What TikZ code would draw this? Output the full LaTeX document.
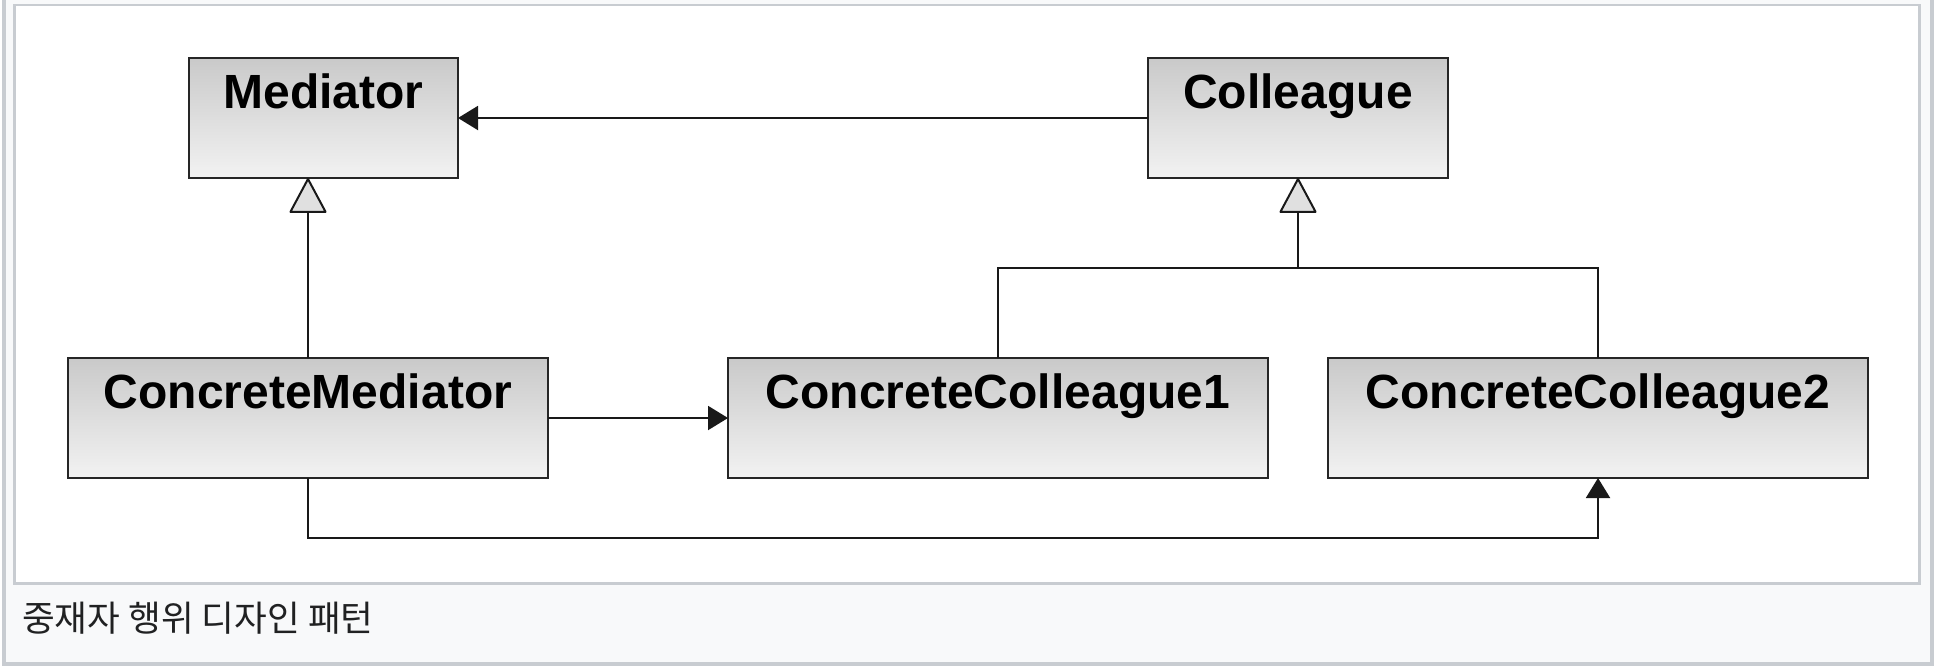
\documentclass[tikz,border=0pt]{standalone}
\usepackage{fontspec}
\setmainfont{Liberation Sans}
\newfontfamily\krfont{Noto Sans CJK KR}
\usepackage{tikz}
\usetikzlibrary{arrows.meta,positioning,calc,backgrounds}
\definecolor{thumbline}{HTML}{C8CCD1}
\definecolor{thumbbg}{HTML}{F8F9FA}
\definecolor{captxt}{HTML}{202122}

\begin{document}
\begin{tikzpicture}[
  x=1pt,y=1pt,
  node distance=180pt and 180pt,
  cls/.style={draw=black!85,line width=2pt,top color=black!21,bottom color=black!5,
              minimum height=120pt,text height=50pt,text depth=70pt,inner sep=0pt,
              outer sep=0pt,font=\fontsize{48}{48}\selectfont\bfseries},
  conn/.style={line width=2pt,black!90},
  assoc/.style={conn,-{Triangle[length=20pt,width=24pt]}},
  gen/.style={conn,-{Triangle[length=36pt,width=38pt,fill=black!12,round]}}]
\useasboundingbox (0,0) rectangle (1936,-670);
\node[cls,minimum width=480pt] (cmed) at (308,-418) {ConcreteMediator};
\node[cls,minimum width=540pt,right=of cmed] (cc1) {ConcreteColleague1};
\node[cls,minimum width=540pt,right=60pt of cc1] (cc2) {ConcreteColleague2};
\node[cls,minimum width=269pt,above=of cmed,xshift=15.5pt] (med) {Mediator};
\node[cls,minimum width=300pt] (coll) at ($(cc1)!.5!(cc2)+(0,300)$) {Colleague};
\coordinate (bus) at ($(coll.south)!.5!(coll.south |- cc1.north)$);
\draw[assoc] (coll) -- (med);
\draw[gen] (cmed.north) -- (cmed.north |- med.south);
\draw[conn] (cc1.north) |- (bus) -| (cc2.north);
\draw[gen] (bus) -- (coll.south);
\draw[assoc] (cmed) -- (cc1);
\draw[assoc] (cmed.south) -- ++(0,-60) -| (cc2.south);
\node[anchor=base west,inner sep=0pt,text=captxt,
      font=\krfont\fontsize{35.6}{35.6}\selectfont] (caption) at (22,-631)
  {중재자 행위 디자인 패턴};
\begin{scope}[on background layer]
\clip (0,0) rectangle (1936,-670);
\draw[thumbline,line width=4pt,fill=thumbbg] (4,10) rectangle (1932,-664);
\draw[thumbline,line width=2.5pt,fill=white] (14.25,-5) rectangle (1919.5,-583.5);
\end{scope}
\end{tikzpicture}
\end{document}
